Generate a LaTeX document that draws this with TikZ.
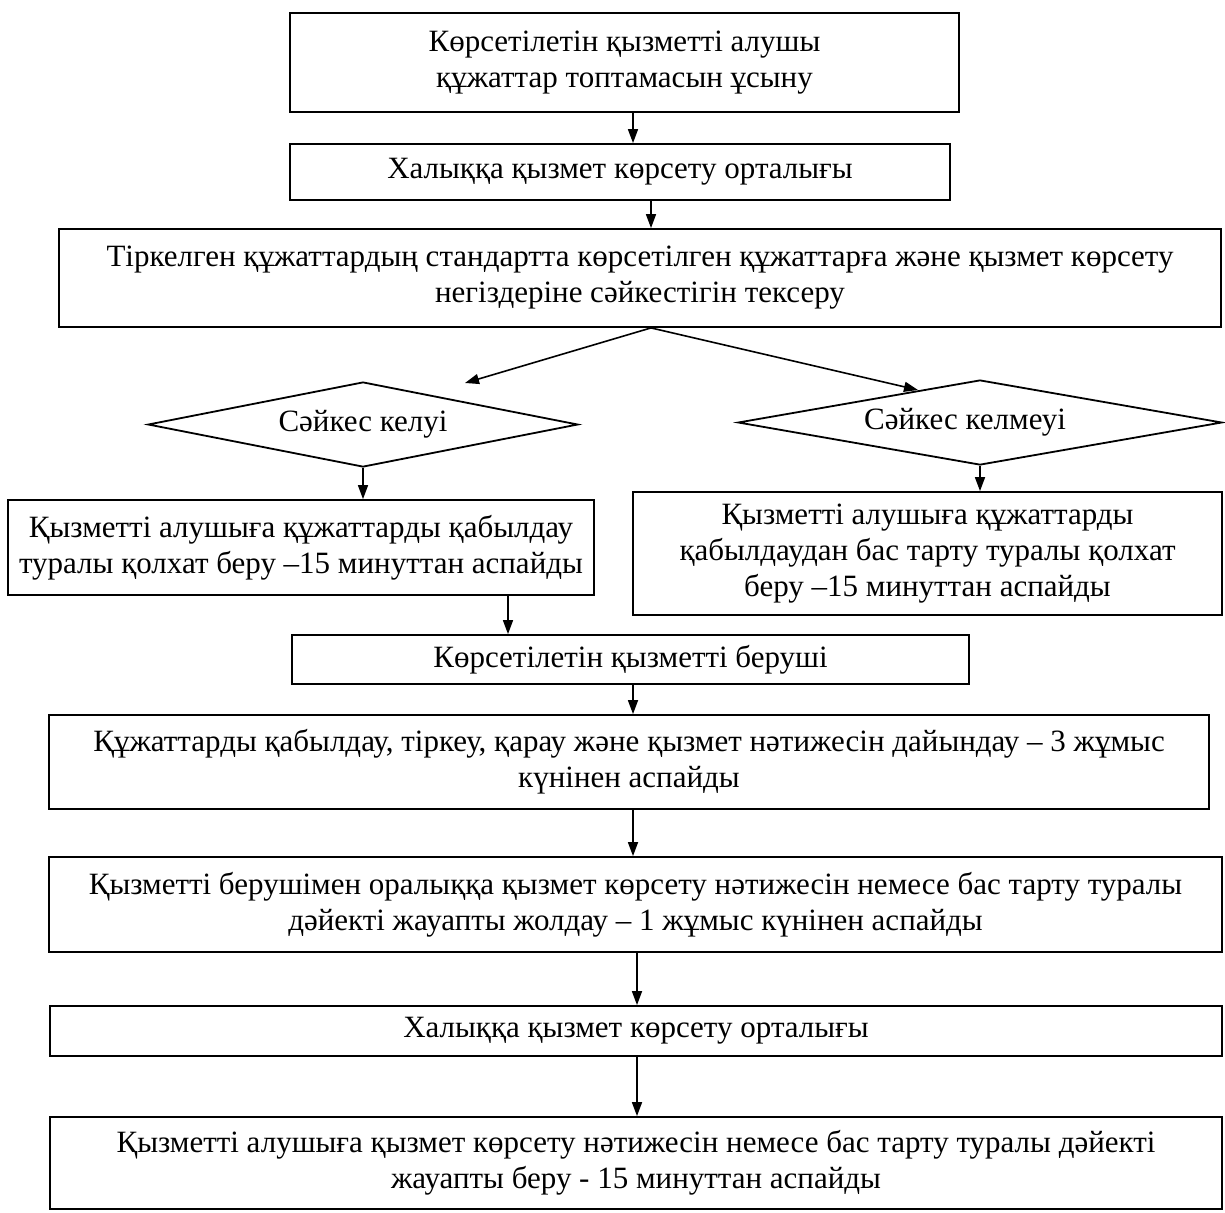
\documentclass[tikz,border=0pt]{standalone}
\usepackage{fontspec}
\setmainfont{Liberation Serif}
\usetikzlibrary{shapes.geometric,arrows.meta}
\pgfdeclarelayer{bg}
\pgfsetlayers{bg,main}
\tikzset{
  stepbox/.style={draw, line width=0.9pt, rectangle, align=center, inner sep=2pt},
  choice/.style={draw, line width=0.9pt, diamond, aspect=5.4, inner sep=0pt, align=center},
  arr/.style={line width=0.8pt, -{Triangle[length=7pt,width=5pt]}}
}

\begin{document}
\begin{tikzpicture}[x=0.5pt, y=-0.5pt, font=\fontsize{15.5}{18}\selectfont]
        \useasboundingbox (0,0) rectangle (1225,1212);
        \node (b1) [stepbox, minimum width=334.5pt, minimum height=49.5pt] at (624.5, 62.5) {Көрсетілетін қызметті алушы\\құжаттар топтамасын ұсыну};
        \node (b2) [stepbox, minimum width=330pt, minimum height=28pt] at (620, 172) {Халыққа қызмет көрсету орталығы};
        \node (b3) [stepbox, minimum width=581pt, minimum height=49pt] at (640, 278) {Тіркелген құжаттардың стандартта көрсетілген құжаттарға және қызмет көрсету\\негіздеріне сәйкестігін тексеру};
        \node (d1) [choice, minimum width=215pt, minimum height=42.5pt] at (363, 424.5) {Сәйкес келуі};
        \node (d2) [choice, minimum width=242pt, minimum height=42.5pt] at (980, 422.5) {\hspace*{-15pt}Сәйкес келмеуі};
        \node (b4) [stepbox, minimum width=293pt, minimum height=47.5pt] at (301, 547.5) {Қызметті алушыға құжаттарды қабылдау\\туралы қолхат беру –15 минуттан аспайды};
        \node (b5) [stepbox, minimum width=294.5pt, minimum height=61.5pt] at (927.5, 553.5) {Қызметті алушыға құжаттарды\\қабылдаудан бас тарту туралы қолхат\\беру –15 минуттан аспайды};
        \node (b6) [stepbox, minimum width=338.5pt, minimum height=24.5pt] at (630.5, 659.5) {Көрсетілетін қызметті беруші};
        \node (b7) [stepbox, minimum width=580pt, minimum height=47pt] at (629, 762) {Құжаттарды қабылдау, тіркеу, қарау және қызмет нәтижесін дайындау – 3 жұмыс\\күнінен аспайды};
        \node (b8) [stepbox, minimum width=586.5pt, minimum height=47.5pt] at (635.5, 904.5) {Қызметті берушімен оралыққа қызмет көрсету нәтижесін немесе бас тарту туралы\\дәйекті жауапты жолдау – 1 жұмыс күнінен аспайды};
        \node (b9) [stepbox, minimum width=586pt, minimum height=25pt] at (636, 1031) {Халыққа қызмет көрсету орталығы};
        \node (b10) [stepbox, minimum width=586pt, minimum height=46pt] at (636, 1163) {Қызметті алушыға қызмет көрсету нәтижесін немесе бас тарту туралы дәйекті\\жауапты беру - 15 минуттан аспайды};
        \coordinate (c1) at (633, 0);
        \coordinate (c2) at (651, 0);
        \coordinate (c3) at (637, 0);
        \coordinate (c4) at (508, 0);
        \coordinate (t1) at (465, 383);
        \coordinate (t2) at (918, 390);
        \begin{pgfonlayer}{bg}
                \draw (b1.south -| c1) edge [arr] (b2.north -| c1);
                \draw (b2.south -| c2) edge [arr] (b3.north -| c2);
                \draw (b3.south -| c2) edge [arr] (t1);
                \draw (b3.south -| c2) edge [arr] (t2);
                \draw (d1.south) edge [arr] (b4.north -| d1.south);
                \draw (d2.south) edge [arr] (b5.north -| d2.south);
                \draw (b4.south -| c4) edge [arr] (b6.north -| c4);
                \draw (b6.south -| c1) edge [arr] (b7.north -| c1);
                \draw (b7.south -| c1) edge [arr] (b8.north -| c1);
                \draw (b8.south -| c3) edge [arr] (b9.north -| c3);
                \draw (b9.south -| c3) edge [arr] (b10.north -| c3);
        \end{pgfonlayer}
\end{tikzpicture}
\end{document}
